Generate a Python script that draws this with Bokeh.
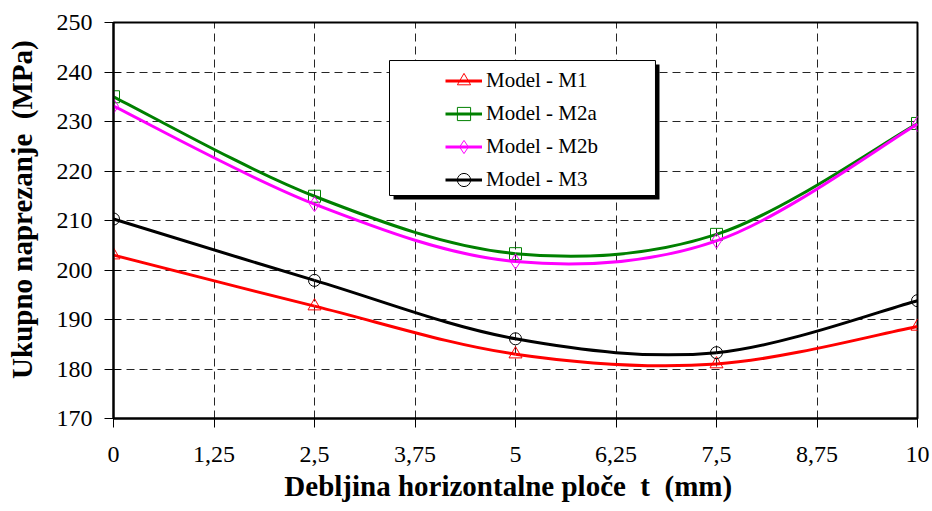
import numpy as np
from bokeh.plotting import figure
from bokeh.models import (FixedTicker, Legend, LegendItem, BoxAnnotation, Range1d)
from bokeh.embed import file_html
from bokeh.resources import INLINE

# ---- data ----
thickness = [0, 2.5, 5, 7.5, 10]
m1 = [203.0, 192.7, 183.0, 181.0, 188.6]
m2a = [235.0, 214.9, 203.3, 207.2, 229.6]
m2b = [233.1, 213.3, 201.7, 205.9, 229.5]
m3 = [210.3, 197.9, 186.1, 183.3, 193.8]
series_names = ["Model - M1", "Model - M2a", "Model - M2b", "Model - M3"]
x_ticks = [0, 1.25, 2.5, 3.75, 5, 6.25, 7.5, 8.75, 10]
x_tick_labels = ["0", "1,25", "2,5", "3,75", "5", "6,25", "7,5", "8,75", "10"]
y_ticks = [170, 180, 190, 200, 210, 220, 230, 240, 250]
NB = "\u00a0"
x_title = "Debljina horizontalne ploče" + NB + " t" + NB + " (mm)" + NB * 2
y_title = NB * 3 + "Ukupno naprezanje" + NB + " (MPa)"

SERIF = "'Liberation Serif', 'Times New Roman', serif"

p = figure(width=932, height=511, output_backend="svg", toolbar_location=None,
           x_range=Range1d(0, 10), y_range=Range1d(170, 250),
           min_border_left=113, min_border_right=15, min_border_top=22, min_border_bottom=93)
p.background_fill_color = "white"
p.border_fill_color = "white"
p.outline_line_color = "black"
p.outline_line_width = 2

# axes
p.xaxis.ticker = FixedTicker(ticks=x_ticks)
p.xaxis.major_label_overrides = {t: l for t, l in zip(x_ticks, x_tick_labels)}
p.yaxis.ticker = FixedTicker(ticks=y_ticks)
for ax in (p.xaxis[0], p.yaxis[0]):
    ax.axis_line_color = "black"
    ax.axis_line_width = 2
    ax.major_tick_line_color = "black"
    ax.major_tick_line_width = 1
    ax.minor_tick_line_color = None
    ax.major_label_text_font = SERIF
    ax.major_label_text_font_size = "24px"
    ax.major_label_text_color = "black"
    ax.axis_label_text_font = SERIF
    ax.axis_label_text_font_style = "bold"
    ax.axis_label_text_font_size = "29px"
    ax.axis_label_text_color = "black"
p.xaxis.major_tick_in = 0
p.xaxis.major_tick_out = 9
p.xaxis.major_label_standoff = 19
p.xaxis.axis_label = x_title
p.xaxis.axis_label_standoff = 5
p.yaxis.major_tick_in = 7
p.yaxis.major_tick_out = 9
p.yaxis.major_label_standoff = 12
p.yaxis.axis_label = y_title
p.yaxis.axis_label_standoff = 16

# grid
p.xgrid.ticker = FixedTicker(ticks=x_ticks)
p.ygrid.ticker = FixedTicker(ticks=y_ticks)
for g in (p.xgrid[0], p.ygrid[0]):
    g.grid_line_color = "black"
    g.grid_line_width = 1
    g.grid_line_dash = "8 5"
    g.grid_line_alpha = 0.85

# smooth curves (Catmull-Rom style bezier control points from data)
def bezier_params(xs, ys):
    xs = np.asarray(xs, float)
    ys = np.asarray(ys, float)
    n = len(xs)
    idx = lambda i: min(max(i, 0), n - 1)
    out = dict(x0=[], y0=[], x1=[], y1=[], cx0=[], cy0=[], cx1=[], cy1=[])
    for i in range(n - 1):
        a, b, c, d = idx(i - 1), i, i + 1, idx(i + 2)
        out["x0"].append(xs[b]); out["y0"].append(ys[b])
        out["x1"].append(xs[c]); out["y1"].append(ys[c])
        out["cx0"].append(xs[b] + (xs[c] - xs[a]) / 6)
        out["cy0"].append(ys[b] + (ys[c] - ys[a]) / 6)
        out["cx1"].append(xs[c] - (xs[d] - xs[b]) / 6)
        out["cy1"].append(ys[c] - (ys[d] - ys[b]) / 6)
    return out

styles = [
    (m1, "#FF0000", dict(marker="triangle", size=13)),
    (m2a, "#008000", dict(marker="square", size=12)),
    (m2b, "#FF00FF", dict(marker="diamond", size=15)),
    (m3, "#000000", dict(marker="circle", size=12)),
]

items = []
for name, (ys, color, mk) in zip(series_names, styles):
    bz = p.bezier(**bezier_params(thickness, ys), line_color=color, line_width=3)
    sc = p.scatter(thickness, ys, marker=mk["marker"], size=mk["size"],
                   line_color=color, line_width=1, fill_alpha=0)
    items.append(LegendItem(label=name, renderers=[bz, sc]))

# legend frame with shadow
shadow = BoxAnnotation(left=3.483, right=6.791, top=241.51, bottom=214.24,
                       fill_color="black", fill_alpha=1, line_alpha=0, level="annotation")
box = BoxAnnotation(left=3.433, right=6.741, top=242.32, bottom=215.05,
                    fill_color="white", fill_alpha=1, line_color="black", line_width=1,
                    line_alpha=1, level="annotation")
p.add_layout(shadow)
p.add_layout(box)

legend = Legend(items=items, location=(332, 222), margin=0, padding=0, spacing=0,
                glyph_width=37, glyph_height=33, label_height=33, label_standoff=4,
                label_text_font=SERIF, label_text_font_size="21px",
                label_text_color="black", background_fill_alpha=0, border_line_alpha=0)
p.add_layout(legend)

open("out.html", "w").write(file_html(p, INLINE))
